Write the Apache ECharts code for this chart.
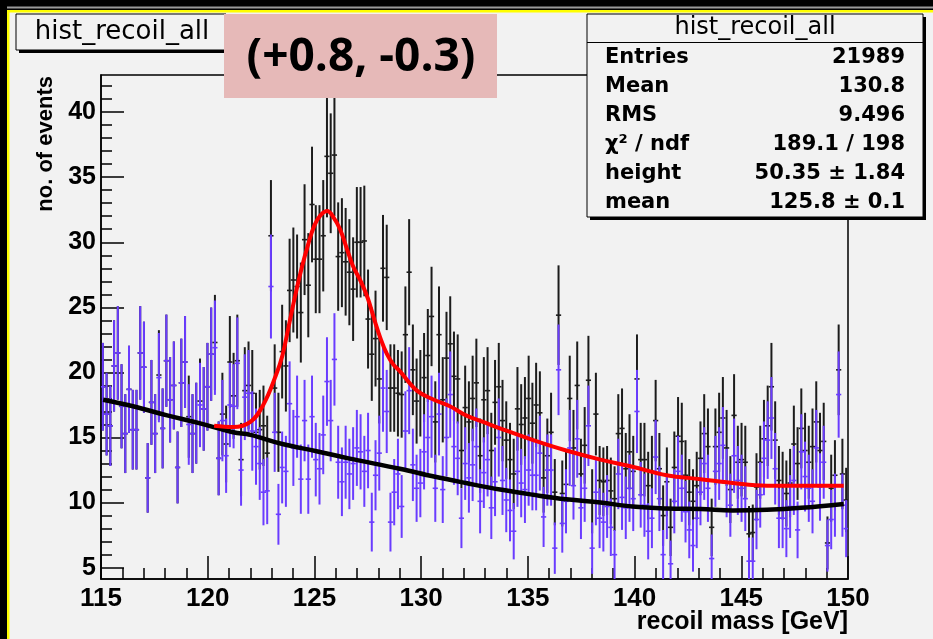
<!DOCTYPE html>
<html>
<head>
<meta charset="utf-8">
<title>hist_recoil_all</title>
<script src="https://cdn.jsdelivr.net/npm/echarts@6/dist/echarts.min.js"></script>
<style>
  html, body { margin: 0; padding: 0; background: #f2f2f2; }
  #chart { width: 933px; height: 639px; }
</style>
</head>
<body>
<div id="chart"></div>
<script>
// histogram binning
const xMin = 115
const xMax = 150
const nBins = 200
const xTicks = [115, 120, 125, 130, 135, 140, 145, 150]
const yTicks = [5, 10, 15, 20, 25, 30, 35, 40]

// signal + background (black), one value per bin
const totalCounts = [
  18.9, 16.8, 15.9, 20.5, 21.5, 17.4, 15.3, 18.7, 15.6, 15.6, 21.5, 20.4, 11.9, 17.7, 15.3, 19.8, 15.7, 20.9, 17.9, 19.0,
  12.7, 19.2, 20.8, 16.6, 15.3, 16.1, 17.8, 17.2, 18.9, 21.4, 22.3, 13.4, 16.8, 14.5, 20.8, 18.2, 20.9, 13.3, 18.6, 19.0,
  18.4, 15.4, 15.6, 15.9, 13.8, 30.5, 18.8, 15.4, 21.6, 20.5, 26.3, 27.1, 26.6, 24.6, 30.2, 26.7, 32.9, 28.7, 28.7, 30.5,
  36.6, 35.3, 36.7, 28.9, 29.2, 28.5, 27.7, 26.4, 30.0, 30.0, 30.1, 24.1, 21.4, 22.6, 19.5, 28.0, 27.3, 18.8, 18.8, 18.4,
  18.3, 22.9, 27.7, 20.2, 17.8, 18.4, 19.6, 21.3, 24.3, 16.2, 22.9, 17.9, 21.1, 22.2, 19.7, 19.5, 14.0, 17.3, 16.2, 18.0,
  19.2, 13.6, 17.9, 18.6, 14.0, 17.7, 18.9, 16.3, 14.8, 13.3, 12.2, 17.2, 16.0, 16.5, 18.0, 16.1, 17.5, 16.9, 11.9, 13.6,
  15.4, 10.8, 24.4, 10.7, 11.4, 18.0, 14.2, 19.0, 12.2, 14.4, 19.4, 10.1, 16.8, 11.7, 11.6, 11.7, 10.9, 10.3, 15.3, 15.7,
  12.6, 13.9, 12.4, 19.5, 13.3, 13.3, 11.3, 12.4, 16.3, 12.6, 9.0, 11.6, 8.1, 12.7, 15.1, 14.7, 12.1, 10.8, 10.1, 11.3,
  13.4, 15.3, 14.3, 8.1, 14.3, 15.4, 16.5, 14.2, 11.0, 16.7, 13.1, 13.3, 13.1, 7.6, 7.7, 11.2, 13.1, 14.9, 15.9, 18.9,
  14.8, 11.7, 11.3, 10.7, 11.5, 14.5, 13.0, 15.7, 14.0, 13.1, 14.3, 16.2, 14.0, 14.7, 6.9, 11.1, 12.1, 20.2, 12.2, 10.2
]

// background only (blue), one value per bin
const bgCounts = [
  18.9, 16.8, 15.9, 20.5, 21.5, 17.4, 15.3, 18.7, 15.6, 15.6, 21.5, 20.4, 11.9, 17.7, 15.3, 19.6, 15.7, 20.9, 17.9, 19.0,
  12.7, 19.2, 20.8, 16.0, 15.3, 16.1, 17.5, 17.2, 18.9, 21.4, 21.9, 13.4, 16.3, 13.6, 17.5, 17.4, 20.7, 12.5, 18.1, 18.4,
  15.5, 14.3, 13.0, 10.8, 10.9, 26.6, 15.4, 9.1, 12.7, 12.4, 17.6, 14.2, 16.6, 11.8, 16.3, 11.8, 16.6, 13.3, 12.6, 15.2,
  19.3, 16.3, 21.0, 13.1, 11.6, 13.1, 12.2, 13.0, 14.2, 13.9, 12.4, 14.0, 8.5, 12.1, 13.8, 18.8, 17.0, 8.5, 10.8, 12.2,
  9.7, 15.5, 18.6, 12.9, 11.1, 11.5, 13.9, 15.0, 16.6, 11.1, 16.8, 11.0, 15.0, 18.3, 14.3, 13.4, 8.8, 13.0, 11.9, 12.9,
  14.3, 10.1, 12.3, 13.3, 9.6, 11.6, 15.0, 11.7, 10.2, 9.4, 7.8, 12.4, 11.5, 11.0, 12.5, 12.1, 12.1, 13.8, 8.9, 12.5,
  12.5, 6.5, 20.2, 8.4, 10.1, 14.2, 11.3, 14.9, 9.6, 11.1, 15.9, 6.5, 10.8, 8.8, 8.5, 9.7, 8.1, 6.0, 12.2, 10.4,
  9.6, 11.1, 10.3, 17.0, 10.6, 9.8, 7.8, 8.8, 13.5, 10.3, 6.0, 9.6, 5.3, 10.1, 12.4, 11.1, 9.3, 7.9, 6.7, 8.8,
  10.8, 13.0, 11.1, 5.7, 12.4, 13.0, 14.4, 11.5, 9.8, 13.6, 11.7, 11.1, 10.3, 5.5, 5.5, 8.7, 10.6, 13.4, 14.8, 16.5,
  12.6, 8.8, 8.8, 8.0, 9.7, 11.7, 7.9, 13.9, 12.0, 11.1, 10.1, 14.2, 11.2, 13.1, 6.7, 8.7, 9.8, 18.3, 9.8, 8.0
]
// error bars of the weighted histograms: sqrt(w * content)
const errWeight = 0.6

// fit curve (red)
const fitMass = [120.3, 121.2, 122.0, 122.6, 123.2, 123.5, 123.8, 124.1, 124.4, 124.7, 125.0, 125.3, 125.6, 125.9,
  126.2, 126.5, 126.8, 127.2, 127.5, 127.8, 128.1, 128.4, 128.7, 129.0, 129.8, 130.6, 131.35, 132.1, 132.9, 133.7,
  135.25, 136.8, 138.4, 139.9, 141.5, 143.1, 144.6, 146.2, 147.8, 149.8]
const fitValue = [15.9, 15.8, 16.2, 17.5, 19.8, 21.3, 23.6, 25.9, 28.0, 29.8, 31.3, 32.1, 32.4, 31.9,
  31.0, 29.6, 28.2, 26.9, 25.7, 24.1, 22.6, 21.4, 20.6, 20.1, 18.6, 17.9, 17.4, 16.7, 16.2, 15.7,
  14.8, 14.0, 13.3, 12.75, 12.1, 11.8, 11.5, 11.3, 11.3, 11.3]

// background function (black)
const bgMass = [115.1, 116.5, 118.1, 119.6, 121.2, 122.0, 123.5, 125.1, 126.6, 129.0, 130.6, 132.1, 133.7,
  135.25, 136.8, 138.4, 139.9, 141.5, 143.1, 144.6, 146.2, 147.8, 149.8]
const bgValue = [17.9, 17.4, 16.7, 16.1, 15.4, 15.2, 14.5, 13.95, 13.4, 12.6, 12.0, 11.5, 11.0,
  10.6, 10.25, 10.0, 9.7, 9.55, 9.5, 9.4, 9.45, 9.6, 9.9]

const statsLabels = ['Entries', 'Mean', 'RMS', 'χ² / ndf', 'height', 'mean']
const statsValues = ['21989', '130.8', '9.496', '189.1 / 198', '50.35 ± 1.84', '125.8 ± 0.1']

const binWidth = (xMax - xMin) / nBins
function histData (counts) {
  return counts.map((v, i) => [xMin + binWidth * (i + 0.5), v, Math.sqrt(errWeight * v)])
}

// vertical error bar plus a short horizontal mark at the bin content
function errorBar (color) {
  return function (params, api) {
    const x = api.value(0)
    const v = api.value(1)
    const e = api.value(2)
    const mid = api.coord([x, v])
    const top = api.coord([x, v + e])
    const bot = api.coord([x, v - e])
    return {
      type: 'group',
      children: [
        { type: 'line', shape: { x1: mid[0], y1: top[1], x2: mid[0], y2: bot[1] }, style: { stroke: color, lineWidth: 2 } },
        { type: 'line', shape: { x1: mid[0] - 2.6, y1: mid[1], x2: mid[0] + 2.6, y2: mid[1] }, style: { stroke: color, lineWidth: 1.6 } }
      ]
    }
  }
}

const yMinor = []
for (let t = 5; t <= 42; t++) yMinor.push(t)

const tickFont = { fontFamily: 'Liberation Sans', fontWeight: 'bold', fontSize: 25, color: '#000' }
const statsFont = 'bold 21px "DejaVu Sans"'

const graphics = [
  // canvas border strips
  { type: 'rect', shape: { x: 0, y: 0, width: 933, height: 10 }, style: { fill: '#000' } },
  { type: 'rect', shape: { x: 0, y: 6.5, width: 933, height: 2 }, style: { fill: '#9a9a9a' } },
  { type: 'rect', shape: { x: 0, y: 10, width: 933, height: 2.5 }, style: { fill: '#ffff00' } },
  { type: 'rect', shape: { x: 0, y: 0, width: 7, height: 639 }, style: { fill: '#000' } },
  { type: 'rect', shape: { x: 7, y: 10, width: 2.5, height: 629 }, style: { fill: '#ffff00' } },
  // title box
  { type: 'rect', shape: { x: 19, y: 17, width: 210, height: 36 }, style: { fill: '#000' } },
  { type: 'rect', shape: { x: 16, y: 14, width: 210, height: 36 }, style: { fill: '#f2f2f2', stroke: '#000', lineWidth: 1 } },
  { type: 'text', x: 122, y: 32, style: { text: 'hist_recoil_all', font: '26px "DejaVu Sans"', fill: '#000', align: 'center', verticalAlign: 'middle' } },
  // annotation
  { type: 'rect', shape: { x: 224, y: 14, width: 273, height: 84 }, style: { fill: '#e6b9b8' } },
  { type: 'text', x: 361, y: 58, style: { text: '(+0.8, -0.3)', font: 'bold 46px "Open Sans"', fill: '#000', align: 'center', verticalAlign: 'middle' } },
  // stats box
  { type: 'rect', shape: { x: 590, y: 17, width: 336, height: 203 }, style: { fill: '#000' } },
  { type: 'rect', shape: { x: 587, y: 14, width: 336, height: 203 }, style: { fill: '#f2f2f2', stroke: '#000', lineWidth: 1 } },
  { type: 'line', shape: { x1: 587, y1: 42.5, x2: 923, y2: 42.5 }, style: { stroke: '#000', lineWidth: 1 } },
  { type: 'text', x: 755, y: 28, style: { text: 'hist_recoil_all', font: '24px "DejaVu Sans"', fill: '#000', align: 'center', verticalAlign: 'middle' } },
  // axis titles
  { type: 'text', x: 848, y: 622, style: { text: 'recoil mass [GeV]', font: 'bold 25px "Liberation Sans"', fill: '#000', align: 'right', verticalAlign: 'middle' } },
  { type: 'text', x: 46, y: 76, rotation: Math.PI / 2, style: { text: 'no. of events', font: 'bold 22px "Liberation Sans"', fill: '#000', align: 'right', verticalAlign: 'middle' } }
]
statsLabels.forEach((label, i) => {
  const y = 57.5 + i * 29
  graphics.push({ type: 'text', x: 605, y: y, style: { text: label, font: statsFont, fill: '#000', align: 'left', verticalAlign: 'middle' } })
  graphics.push({ type: 'text', x: 905, y: y, style: { text: statsValues[i], font: statsFont, fill: '#000', align: 'right', verticalAlign: 'middle' } })
})

const myChart = echarts.init(document.getElementById('chart'))
myChart.setOption({
  backgroundColor: '#f2f2f2',
  animation: false,
  grid: { left: 101, right: 85, top: 75, bottom: 60, show: true, borderColor: '#000', borderWidth: 1.5, backgroundColor: 'transparent' },
  xAxis: {
    type: 'value',
    min: xMin,
    max: xMax,
    interval: 5,
    axisLine: { lineStyle: { color: '#000', width: 1.5 } },
    axisTick: { inside: true, length: 23, lineStyle: { color: '#000', width: 1.5 } },
    minorTick: { show: true, splitNumber: 5, length: 11, lineStyle: { color: '#000', width: 1.5 } },
    axisLabel: Object.assign({ margin: 7, customValues: xTicks }, tickFont, { fontSize: 26 }),
    splitLine: { show: false }
  },
  yAxis: [
    {
      type: 'value',
      min: 4.13,
      max: 42.85,
      axisLine: { show: true, lineStyle: { color: '#000', width: 1.5 } },
      axisTick: { inside: true, length: 23, customValues: yTicks, lineStyle: { color: '#000', width: 1.5 } },
      axisLabel: Object.assign({ margin: 5, customValues: yTicks }, tickFont),
      splitLine: { show: false }
    },
    {
      type: 'value',
      min: 4.13,
      max: 42.85,
      position: 'left',
      offset: 0,
      axisLine: { show: false },
      axisTick: { inside: true, length: 11, customValues: yMinor, lineStyle: { color: '#000', width: 1.5 } },
      axisLabel: { show: false },
      splitLine: { show: false }
    }
  ],
  series: [
    { type: 'custom', name: 'total', data: histData(totalCounts), renderItem: errorBar('#1c1c1c'), clip: true, z: 2 },
    { type: 'custom', name: 'background', data: histData(bgCounts), renderItem: errorBar('#6a3cff'), clip: true, z: 3 },
    {
      type: 'line', name: 'bg fit', data: bgMass.map((m, i) => [m, bgValue[i]]),
      showSymbol: false, smooth: 0.4, lineStyle: { color: '#000', width: 4.5 }, z: 4
    },
    {
      type: 'line', name: 'fit', data: fitMass.map((m, i) => [m, fitValue[i]]),
      showSymbol: false, smooth: 0.4, lineStyle: { color: '#ff0000', width: 4 }, z: 5
    }
  ],
  graphic: { elements: graphics.map(g => Object.assign({ z: 100 }, g)) }
})
</script>
</body>
</html>
